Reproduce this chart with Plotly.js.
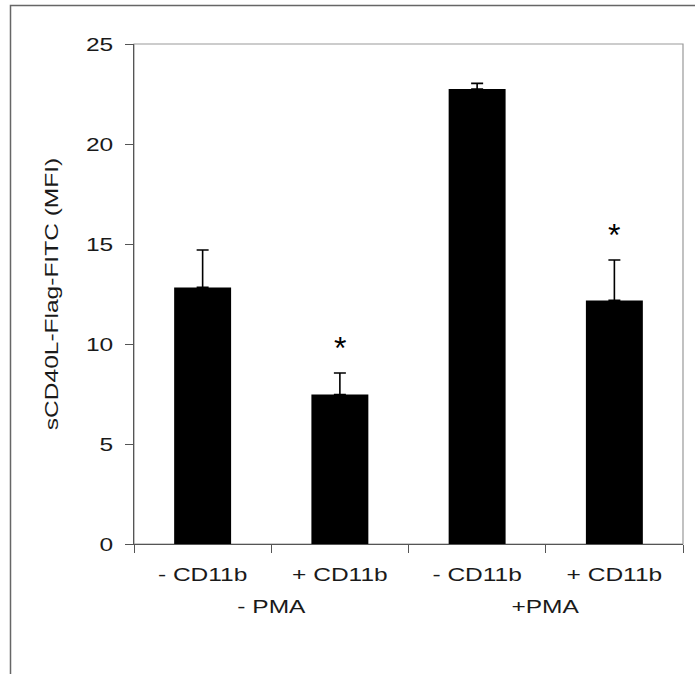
<!DOCTYPE html>
<html>
<head>
<meta charset="utf-8">
<script src="https://cdn.plot.ly/plotly-3.0.1.min.js"></script>
<style>
  html, body { margin: 0; padding: 0; background: #fff; }
  #chart { width: 695px; height: 674px; }
</style>
</head>
<body>
<div id="chart"></div>
<script>
// ---- data ----
const categories = ["- CD11b", "+ CD11b", "- CD11b", "+ CD11b"];
const groupOf = ["- PMA", "- PMA", "+PMA", "+PMA"];
const groups = ["- PMA", "+PMA"];
const means = [12.83, 7.47, 22.75, 12.18];
const errors = [1.87, 1.08, 0.28, 2.02];
const significance = ["", "*", "", "*"];
const yTicks = [0, 5, 10, 15, 20, 25];
const yTitle = "sCD40L-Flag-FITC (MFI)";

// ---- build ----
const FONT = "Liberation Sans, Arial, sans-serif";
const FS = 19;
const TEXT_COLOR = "#1a1a1a";
const idx = categories.map((_, i) => i);

const trace = {
  type: "bar",
  x: idx,
  y: means,
  marker: { color: "#000000", line: { width: 0 } },
  error_y: {
    type: "data",
    symmetric: false,
    array: errors,
    arrayminus: errors.map(() => 0),
    color: "#000000",
    thickness: 1.6,
    width: 6
  },
  hoverinfo: "skip"
};

const annotations = [];
// significance stars
significance.forEach((s, i) => {
  if (!s) return;
  annotations.push({
    x: i, y: means[i] + errors[i], xref: "x", yref: "y",
    text: s, showarrow: false,
    xanchor: "center", yanchor: "middle", yshift: 25,
    font: { family: FONT, size: 32, color: "#000" }
  });
});
// group labels
groups.forEach(g => {
  const members = idx.filter(i => groupOf[i] === g);
  const center = members.reduce((a, b) => a + b, 0) / members.length;
  annotations.push({
    x: center, y: -0.1254, xref: "x", yref: "paper",
    text: g, showarrow: false,
    xanchor: "center", yanchor: "middle",
    font: { family: FONT, size: FS, color: TEXT_COLOR }
  });
});

const L = 134, R = 12, T = 44, B = 130, W = 695, H = 674;
const pw = W - L - R, ph = H - T - B;
const px2x = p => (p - L) / pw;
const py2y = p => (H - B - p) / ph;

const layout = {
  width: W, height: H,
  margin: { l: L, r: R, t: T, b: B, pad: 0 },
  paper_bgcolor: "#ffffff",
  plot_bgcolor: "#ffffff",
  showlegend: false,
  bargap: 0.585,
  font: { family: FONT, size: FS, color: TEXT_COLOR },
  xaxis: {
    range: [-0.5, categories.length - 0.5],
    tickmode: "array",
    tickvals: idx,
    ticktext: categories,
    ticks: "outside",
    ticklen: 8,
    tickcolor: "rgba(0,0,0,0)",
    ticklabelstandoff: 5,
    minor: { ticks: "outside", ticklen: 8, tickwidth: 1, tickcolor: "#555", tick0: -0.5, dtick: 1, showgrid: false },
    showline: true, linecolor: "#555", linewidth: 1,
    showgrid: false, zeroline: false,
    tickfont: { family: FONT, size: FS, color: TEXT_COLOR },
    fixedrange: true
  },
  yaxis: {
    range: [0, 25],
    tickmode: "array",
    tickvals: yTicks,
    ticks: "outside",
    ticklen: 8,
    tickwidth: 1,
    tickcolor: "#555",
    ticklabelstandoff: 8,
    showline: true, linecolor: "#555", linewidth: 1,
    showgrid: false, zeroline: false,
    tickfont: { family: FONT, size: FS, color: TEXT_COLOR },
    title: { text: yTitle, font: { family: FONT, size: FS, color: TEXT_COLOR }, standoff: 28 },
    automargin: false,
    fixedrange: true
  },
  annotations: annotations,
  shapes: [
    // plot-area frame (top/right grey)
    { type: "rect", xref: "paper", yref: "paper", x0: 0, x1: 1, y0: 0, y1: 1,
      line: { color: "#999", width: 1.2 }, fillcolor: "rgba(0,0,0,0)", layer: "below" },
    // outer picture frame (left and top edges visible)
    { type: "rect", xref: "paper", yref: "paper",
      x0: px2x(10.5), x1: px2x(W + 10), y0: py2y(H + 10), y1: py2y(5.5),
      line: { color: "#666", width: 1.5 }, fillcolor: "rgba(0,0,0,0)" }
  ]
};

const STRETCH = 1.29;
function stretchText(gd) {
  const nodes = gd.querySelectorAll(".xtick text, .ytick text, .g-ytitle text, .annotation-text");
  nodes.forEach(t => {
    if (t.textContent.trim() === "*") return;
    const len = t.getComputedTextLength();
    if (len > 0) {
      t.setAttribute("textLength", (len * STRETCH).toFixed(2));
      t.setAttribute("lengthAdjust", "spacingAndGlyphs");
    }
  });
}

Plotly.newPlot("chart", [trace], layout, { displayModeBar: false, staticPlot: true })
  .then(gd => stretchText(gd));
</script>
</body>
</html>
